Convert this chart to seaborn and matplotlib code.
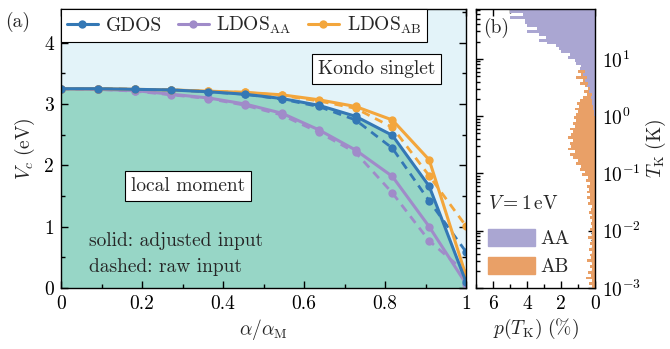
import numpy as np
import matplotlib
matplotlib.use("Agg")
import matplotlib.pyplot as plt
from matplotlib.patches import Patch
from matplotlib.lines import Line2D
from matplotlib.ticker import MultipleLocator, FuncFormatter, LogLocator, NullFormatter
import seaborn as sns

# ---------------- data ----------------
alpha = [0.0, 0.0909, 0.1818, 0.2727, 0.3636, 0.4545, 0.5455, 0.6364, 0.7273, 0.8182, 0.9091, 1.0]

gdos_solid = [3.25, 3.25, 3.24, 3.23, 3.20, 3.16, 3.09, 2.98, 2.80, 2.49, 1.66, 0.10]
gdos_dash  = [3.25, 3.25, 3.24, 3.23, 3.20, 3.16, 3.08, 2.96, 2.74, 2.28, 1.42, 0.59]
aa_solid   = [3.25, 3.24, 3.22, 3.16, 3.10, 3.00, 2.85, 2.58, 2.25, 1.82, 1.00, 0.07]
aa_dash    = [3.25, 3.24, 3.21, 3.15, 3.09, 2.98, 2.82, 2.54, 2.21, 1.55, 0.77, 0.25]
ab_solid   = [3.25, 3.25, 3.24, 3.23, 3.21, 3.19, 3.15, 3.07, 2.96, 2.74, 2.09, 0.20]
ab_dash    = [3.25, 3.25, 3.24, 3.23, 3.21, 3.19, 3.14, 3.05, 2.93, 2.62, 1.83, 1.01]

# histogram of Kondo temperatures (percent per bin, bins of 0.05 decade in log10 T_K)
bin_width = 0.05
aa_log_start = 0.0
aa_hist = [0.05, 0.05, 0.1, 0.1, 0.2, 0.15, 0.25, 0.2, 0.35, 0.3,
           0.45, 0.4, 0.6, 0.5, 0.7, 0.6, 0.9, 0.8, 1.1, 1.2,
           1.6, 1.5, 2.0, 2.1, 2.3, 2.8, 3.3, 2.9, 3.3, 4.0,
           3.4, 4.0, 4.1, 4.1, 5.0, 4.25, 5.0, 5.9]
ab_log_start = -3.0
ab_hist = [0.2, 0.35, 0.15, 0.55, 0.25, 0.4, 0.2, 0.3, 0.15, 0.45,
           0.25, 0.3, 0.15, 0.35, 0.2, 0.3, 0.15, 0.4, 0.2, 0.15,
           0.3, 0.15, 0.25, 0.2, 0.3, 0.15, 0.35, 0.25, 0.2, 0.4,
           0.3, 0.45, 0.3, 0.5, 0.35, 0.45, 0.3, 0.55, 0.4, 0.75,
           0.6, 0.9, 0.8, 1.1, 1.0, 1.3, 1.5, 1.2, 1.6, 1.4,
           1.5, 1.3, 1.6, 1.4, 1.3, 1.45, 1.2, 1.3, 1.1, 1.25,
           1.1, 1.0, 1.15, 0.95, 1.05, 0.9, 0.7, 0.5, 0.65, 0.4,
           0.6, 0.9, 0.7, 1.1, 0.8, 1.0, 0.6, 0.3, 0.1]

# ---------------- style ----------------
sns.set_style("ticks")
plt.rcParams.update({
    "font.family": "serif",
    "font.serif": ["cmr10"],
    "mathtext.fontset": "cm",
    "axes.formatter.use_mathtext": True,
    "font.size": 14,
    "axes.edgecolor": "black",
    "axes.linewidth": 1.0,
    "xtick.color": "black",
    "ytick.color": "black",
})

FS = 14
c_gdos = "#3478b5"
c_aa = "#a08bc9"
c_ab = "#f3a63c"
c_kondo = "#e3f3f9"
c_local = "#97d6c6"
c_hist_aa = "#aaa6d2"
c_hist_ab = "#e9a067"

fig = plt.figure(figsize=(6.7, 3.49), dpi=100)
ax1 = fig.add_axes([61/670, 61/349, 405/670, 279/349])
ax2 = fig.add_axes([476/670, 61/349, 119/670, 279/349])

# ---------------- panel (a) ----------------
ax1.set_facecolor(c_kondo)
ax1.fill_between(alpha, 0, gdos_solid, color=c_local, lw=0, zorder=0.5)

for y, c in [(aa_dash, c_aa), (ab_dash, c_ab), (gdos_dash, c_gdos)]:
    sns.lineplot(x=alpha, y=y, ax=ax1, color=c, marker="o", markersize=6,
                 markeredgewidth=0, linestyle=(0, (3, 2.2)), linewidth=2.0, legend=False)
for y, c in [(aa_solid, c_aa), (ab_solid, c_ab), (gdos_solid, c_gdos)]:
    sns.lineplot(x=alpha, y=y, ax=ax1, color=c, marker="o", markersize=6,
                 markeredgewidth=0, linestyle="-", linewidth=2.2, legend=False)

ax1.set_xlim(0, 1)
ax1.set_ylim(0, 4.55)
ax1.xaxis.set_major_locator(MultipleLocator(0.2))
ax1.xaxis.set_minor_locator(MultipleLocator(0.1))
ax1.yaxis.set_major_locator(MultipleLocator(1))
ax1.yaxis.set_minor_locator(MultipleLocator(0.5))
fmt = FuncFormatter(lambda v, p: f"{v:g}")
ax1.xaxis.set_major_formatter(fmt)
ax1.yaxis.set_major_formatter(fmt)
ax1.tick_params(which="both", direction="in", top=True, right=True, width=1.0)
ax1.tick_params(which="major", length=5, labelsize=FS, pad=5)
ax1.tick_params(which="minor", length=3)
ax1.set_xlabel(r"$\alpha/\alpha_{\rm M}$", fontsize=FS, labelpad=3)
ax1.set_ylabel(r"$V_c\ \mathrm{(eV)}$", fontsize=FS, labelpad=5)

handles = [Line2D([], [], color=c_gdos, marker="o", markersize=6, lw=2.2, markeredgewidth=0),
           Line2D([], [], color=c_aa, marker="o", markersize=6, lw=2.2, markeredgewidth=0),
           Line2D([], [], color=c_ab, marker="o", markersize=6, lw=2.2, markeredgewidth=0)]
leg = ax1.legend(handles, ["GDOS", r"LDOS$_{\rm AA}$", r"LDOS$_{\rm AB}$"], ncol=3,
                 loc="upper left", bbox_to_anchor=(0.0, 1.0), borderaxespad=0.0,
                 fontsize=FS, handlelength=1.6, handletextpad=0.4, columnspacing=0.8,
                 fancybox=False, framealpha=1, edgecolor="black", borderpad=0.3)
leg.get_frame().set_linewidth(0.8)

box = dict(boxstyle="square,pad=0.3", fc="white", ec="black", lw=0.8)
ax1.text(0.78, 3.57, "Kondo singlet", ha="center", va="center", fontsize=FS, bbox=box)
ax1.text(0.313, 1.66, "local moment", ha="center", va="center", fontsize=FS, bbox=box)
ax1.text(0.068, 0.77, "solid: adjusted input", ha="left", va="center", fontsize=FS)
ax1.text(0.068, 0.34, "dashed: raw input", ha="left", va="center", fontsize=FS)

fig.text(18/670, 1 - 22/349, "(a)", ha="center", va="center", fontsize=FS)

# ---------------- panel (b) ----------------
ax2.set_yscale("log")
ab_lo = 10 ** (ab_log_start + bin_width * np.arange(len(ab_hist)))
ab_hi = 10 ** (ab_log_start + bin_width * (np.arange(len(ab_hist)) + 1))
aa_lo = 10 ** (aa_log_start + bin_width * np.arange(len(aa_hist)))
aa_hi = 10 ** (aa_log_start + bin_width * (np.arange(len(aa_hist)) + 1))
ax2.barh(ab_lo, ab_hist, height=ab_hi - ab_lo, align="edge", color=c_hist_ab, lw=0)
ax2.barh(aa_lo, aa_hist, height=aa_hi - aa_lo, align="edge", color=c_hist_aa, lw=0)

ax2.set_xlim(7, 0)
ax2.set_ylim(1e-3, 74)
ax2.xaxis.set_major_locator(MultipleLocator(2))
ax2.xaxis.set_minor_locator(MultipleLocator(1))
ax2.xaxis.set_major_formatter(fmt)
ax2.yaxis.set_major_locator(LogLocator(base=10, numticks=10))
ax2.yaxis.set_minor_locator(LogLocator(base=10, subs=np.arange(2, 10), numticks=20))
ax2.yaxis.set_minor_formatter(NullFormatter())
ax2.yaxis.tick_right()
ax2.yaxis.set_label_position("right")
ax2.tick_params(which="both", direction="in", top=True, left=True, right=True, width=1.0)
ax2.tick_params(which="major", length=5, labelsize=FS, pad=5)
ax2.tick_params(which="minor", length=3)
ax2.set_xlabel(r"$p(T_{\rm K})\ \mathrm{(\%)}$", fontsize=FS, labelpad=3)
ax2.set_ylabel(r"$T_{\rm K}\ \mathrm{(K)}$", fontsize=FS, labelpad=2)

fig.text(496/670, 1 - 28/349, "(b)", ha="center", va="center", fontsize=FS)
fig.text(488/670, 1 - 204/349, r"$V = 1\,\mathrm{eV}$", ha="left", va="center", fontsize=FS)
leg2 = ax2.legend([Patch(color=c_hist_aa), Patch(color=c_hist_ab)], ["AA", "AB"],
                  loc="lower left", bbox_to_anchor=(488/670, 1 - 276/349),
                  bbox_transform=fig.transFigure, frameon=False, fontsize=FS,
                  handlelength=2.4, handleheight=0.95, handletextpad=0.3,
                  borderaxespad=0, borderpad=0, labelspacing=0.45)

fig.savefig("out.png", dpi=100)
